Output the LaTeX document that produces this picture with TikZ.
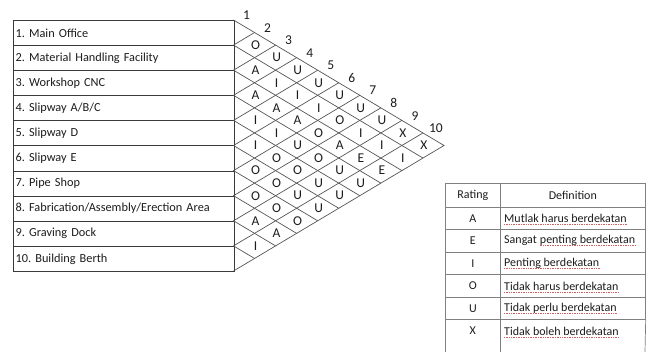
\documentclass[tikz,border=0pt]{standalone}
\usepackage{fontspec}
\setmainfont{Carlito}
\frenchspacing
\definecolor{txt}{HTML}{1C1C1C}
\definecolor{linec}{HTML}{3A3A3A}
\definecolor{tric}{HTML}{555555}
\definecolor{tabc}{HTML}{808080}
\definecolor{spell}{HTML}{D06060}
\newcommand\xo{233.5}
\newcommand\cw{21.05}
\newcommand\ch{12.55}
\newcommand\yo{20}
\newcommand\diag[2]{\foreach \r [count=\i] in {#2} \node[cell] (c\i-#1) at (\xo+#1*\cw+1, \yo+\ch*2*\i+\ch*#1-\ch) {\r};}
\begin{document}
\frenchspacing
\begin{tikzpicture}[x=1pt,y=-1pt, text=txt,
  rowbox/.style={draw=linec, line width=0.8pt, minimum width=220.5pt, minimum height=25.1pt,
    text width=216pt, inner xsep=2.25pt, inner ysep=0pt, align=left, anchor=north west,
    font=\fontsize{12.3}{14}\selectfont},
  tri/.style={draw=tric, line width=0.7pt, line join=miter},
  cell/.style={inner sep=0pt, font=\fontsize{13.5}{16}\selectfont},
  num/.style={inner sep=0pt, font=\fontsize{13.5}{16}\selectfont},
  tcell/.style={draw=tabc, line width=0.7pt, inner sep=0pt, anchor=north west,
    font=\fontsize{12}{14}\selectfont},
  ratc/.style={tcell, minimum width=55pt},
  defc/.style={tcell, minimum width=145pt},
  deftxt/.style={inner sep=0pt, anchor=west, font=\fontsize{12}{14}\selectfont},
  spellline/.style={draw=spell, line width=0.55pt, dash pattern=on 1pt off 0.7pt},
  tab/.style={draw=tabc, line width=0.7pt}]
\useasboundingbox (0,0) rectangle (648,352);
% left table
\node[rowbox] (r1) at (13,20) {1. Main Office};
\node[rowbox] (r2) at (13,45.1) {2. Material Handling Facility};
\node[rowbox] (r3) at (13,70.2) {3. Workshop CNC};
\node[rowbox] (r4) at (13,95.3) {4. Slipway A/B/C};
\node[rowbox] (r5) at (13,120.4) {5. Slipway D};
\node[rowbox] (r6) at (13,145.5) {6. Slipway E};
\node[rowbox] (r7) at (13,170.6) {7. Pipe Shop};
\node[rowbox] (r8) at (13,195.7) {8. Fabrication/Assembly/Erection Area};
\node[rowbox] (r9) at (13,220.8) {9. Graving Dock};
\node[rowbox] (r10) at (13,245.9) {10. Building Berth};
% triangle grid
\foreach \k in {0,...,10} {
  \coordinate (L\k) at (\xo, \yo+2*\ch*\k);
  \coordinate (T\k) at (\xo+\k*\cw, \yo+\k*\ch);
  \coordinate (B\k) at (\xo+\k*\cw, \yo+20*\ch-\k*\ch);
}
\draw[tri] (L0) -- (T10) -- (L10);
\foreach \k [evaluate=\k as \m using int(10-\k)] in {1,...,9} {
  \draw[tri] (T\k) -- (L\k) -- (B\m);
}
\diag{1}{O,A,A,I,I,O,O,A,I}
\diag{2}{U,I,A,I,O,O,O,A}
\diag{3}{U,I,A,U,O,U,O}
\diag{4}{U,I,O,O,U,U}
\diag{5}{U,O,A,U,U}
\diag{6}{U,I,E,U}
\diag{7}{U,I,E}
\diag{8}{X,I}
\diag{9}{X}
\foreach \k in {1,...,10}
  \node[num] (n\k) at (\xo+\k*\cw-0.5*\cw+2.5, \yo+\k*\ch-0.5*\ch-11) {\k};
% rating table
\node[ratc, minimum height=24pt] (ha) at (445,183) {Rating};
\node[defc, minimum height=24pt] (hb) at (500,183) {Definition};
\node[ratc, minimum height=22.5pt] (a1) at (445,207) {A};
\node[defc, minimum height=22.5pt] (b1) at (500,207) {};
\node[ratc, minimum height=22.5pt] (a2) at (445,229.5) {E};
\node[defc, minimum height=22.5pt] (b2) at (500,229.5) {};
\node[ratc, minimum height=22.5pt] (a3) at (445,252) {I};
\node[defc, minimum height=22.5pt] (b3) at (500,252) {};
\node[ratc, minimum height=22.5pt] (a4) at (445,274.5) {O};
\node[defc, minimum height=22.5pt] (b4) at (500,274.5) {};
\node[ratc, minimum height=22.5pt] (a5) at (445,297) {U};
\node[defc, minimum height=22.5pt] (b5) at (500,297) {};
\node[ratc, draw=none, minimum height=22.5pt] (a6) at (445,319.5) {X};
\node[defc, draw=none, minimum height=22.5pt] (b6) at (500,319.5) {};
\node[deftxt] (t1) at ([xshift=4pt]b1.west) {Mutlak harus berdekatan};
\node[deftxt] (t2a) at ([xshift=4pt]b2.west) {Sangat};
\node[deftxt, anchor=base west] (t2) at ([xshift=2.7pt]t2a.base east) {penting berdekatan};
\node[deftxt] (t3) at ([xshift=4pt]b3.west) {Penting berdekatan};
\node[deftxt] (t4) at ([xshift=4pt]b4.west) {Tidak harus berdekatan};
\node[deftxt] (t5) at ([xshift=4pt]b5.west) {Tidak perlu berdekatan};
\node[deftxt] (t6) at ([xshift=4pt]b6.west) {Tidak boleh berdekatan};
\foreach \t in {t1,t2,t3,t4,t5,t6}
  \draw[spellline] ([yshift=-1.6pt]\t.base west) -- ([yshift=-1.6pt]\t.base east);
\coordinate (e1) at (445,352);
\coordinate (e2) at (500,352);
\coordinate (e3) at (645,352);
\draw[tab] (a6.north west) -- (e1);
\draw[tab] (b6.north west) -- (e2);
\draw[tab] (b6.north east) -- (e3);
\end{tikzpicture}
\end{document}
